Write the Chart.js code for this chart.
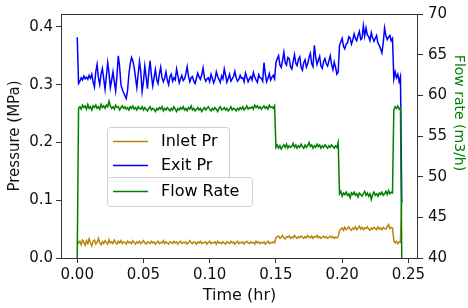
<!DOCTYPE html>
<html lang="en">
<head>
    <meta charset="UTF-8">
    <title>Pressure and flow rate</title>
    <script src="https://cdn.jsdelivr.net/npm/chart.js"></script>
    <style>
        body { margin: 0; background: #fff; }
        canvas { display: block; }
    </style>
</head>
<body>
    <canvas id="chart" width="468" height="308"></canvas>

    <script>
        // time (hr)
        const times = [
            0.000,
            0.001, 0.002, 0.003, 0.004, 0.005, 0.006, 0.007, 0.008, 0.009, 0.010,
            0.011, 0.012, 0.013, 0.014, 0.015, 0.016, 0.017, 0.018, 0.019, 0.020,
            0.021, 0.022, 0.023, 0.024, 0.025, 0.026, 0.027, 0.028, 0.029, 0.030,
            0.031, 0.032, 0.033, 0.034, 0.035, 0.036, 0.037, 0.038, 0.039, 0.040,
            0.041, 0.042, 0.043, 0.044, 0.045, 0.046, 0.047, 0.048, 0.049, 0.050,
            0.051, 0.052, 0.053, 0.054, 0.055, 0.056, 0.057, 0.058, 0.059, 0.060,
            0.061, 0.062, 0.063, 0.064, 0.065, 0.066, 0.067, 0.068, 0.069, 0.070,
            0.071, 0.072, 0.073, 0.074, 0.075, 0.076, 0.077, 0.078, 0.079, 0.080,
            0.081, 0.082, 0.083, 0.084, 0.085, 0.086, 0.087, 0.088, 0.089, 0.090,
            0.091, 0.092, 0.093, 0.094, 0.095, 0.096, 0.097, 0.098, 0.099, 0.100,
            0.101, 0.102, 0.103, 0.104, 0.105, 0.106, 0.107, 0.108, 0.109, 0.110,
            0.111, 0.112, 0.113, 0.114, 0.115, 0.116, 0.117, 0.118, 0.119, 0.120,
            0.121, 0.122, 0.123, 0.124, 0.125, 0.126, 0.127, 0.128, 0.129, 0.130,
            0.131, 0.132, 0.133, 0.134, 0.135, 0.136, 0.137, 0.138, 0.139, 0.140,
            0.141, 0.142, 0.143, 0.144, 0.145, 0.146, 0.147, 0.148, 0.149,
            0.150, 0.151, 0.152, 0.153, 0.154, 0.155, 0.156, 0.157, 0.158, 0.159,
            0.160, 0.161, 0.162, 0.163, 0.164, 0.165, 0.166, 0.167, 0.168, 0.169,
            0.170, 0.171, 0.172, 0.173, 0.174, 0.175, 0.176, 0.177, 0.178, 0.179,
            0.180, 0.181, 0.182, 0.183, 0.184, 0.185, 0.186, 0.187, 0.188, 0.189,
            0.190, 0.191, 0.192, 0.193, 0.194, 0.195, 0.196, 0.197,
            0.198, 0.199, 0.200, 0.201, 0.202, 0.203, 0.204, 0.205, 0.206, 0.207,
            0.208, 0.209, 0.210, 0.211, 0.212, 0.213, 0.214, 0.215, 0.216, 0.217,
            0.218, 0.219, 0.220, 0.221, 0.222, 0.223, 0.224, 0.225, 0.226, 0.227,
            0.228, 0.229, 0.230, 0.231, 0.232, 0.233, 0.234, 0.235, 0.236, 0.237,
            0.238,
            0.239, 0.240, 0.241, 0.242, 0.243, 0.244,
            0.245
        ];

        // MPa
        const inletPr = [
            0.031,
            0.026, 0.029, 0.023, 0.031, 0.027, 0.022, 0.030, 0.025, 0.033, 0.026,
            0.021, 0.029, 0.031, 0.024, 0.027, 0.034, 0.026, 0.023, 0.028, 0.025,
            0.030, 0.027, 0.024, 0.032, 0.026, 0.028, 0.025, 0.031, 0.027, 0.024,
            0.029, 0.026, 0.030, 0.025, 0.028, 0.027, 0.024, 0.029, 0.026, 0.028,
            0.025, 0.030, 0.027, 0.024, 0.028, 0.026, 0.029, 0.025, 0.027, 0.030,
            0.026, 0.024, 0.028, 0.027, 0.025, 0.029, 0.026, 0.028, 0.024, 0.027,
            0.029, 0.025, 0.027, 0.026, 0.030, 0.025, 0.028, 0.026, 0.024, 0.028,
            0.027, 0.025, 0.029, 0.026, 0.028, 0.024, 0.027, 0.029, 0.025, 0.027,
            0.026, 0.028, 0.024, 0.027, 0.030, 0.026, 0.025, 0.028, 0.027, 0.024,
            0.028, 0.026, 0.029, 0.025, 0.027, 0.026, 0.028, 0.024, 0.027, 0.029,
            0.025, 0.027, 0.026, 0.028, 0.024, 0.029, 0.026, 0.027, 0.025, 0.028,
            0.026, 0.024, 0.028, 0.027, 0.025, 0.029, 0.026, 0.028, 0.024, 0.027,
            0.029, 0.025, 0.027, 0.026, 0.028, 0.024, 0.027, 0.029, 0.026, 0.025,
            0.028, 0.026, 0.027, 0.024, 0.029, 0.026, 0.028, 0.025, 0.027, 0.026,
            0.028, 0.024, 0.027, 0.029, 0.025, 0.027, 0.026, 0.028, 0.026,
            0.035, 0.037, 0.038, 0.034, 0.036, 0.039, 0.035, 0.033, 0.037, 0.036,
            0.038, 0.034, 0.036, 0.035, 0.039, 0.036, 0.034, 0.037, 0.035, 0.038,
            0.036, 0.034, 0.037, 0.035, 0.039, 0.036, 0.035, 0.038, 0.034, 0.037,
            0.036, 0.039, 0.035, 0.037, 0.034, 0.036, 0.038, 0.035, 0.037, 0.034,
            0.036, 0.038, 0.035, 0.037, 0.034, 0.036, 0.035, 0.037,
            0.047, 0.050, 0.052, 0.048, 0.053, 0.049, 0.051, 0.054, 0.050, 0.048,
            0.052, 0.050, 0.054, 0.049, 0.052, 0.055, 0.050, 0.053, 0.049, 0.052,
            0.051, 0.054, 0.050, 0.048, 0.052, 0.050, 0.053, 0.051, 0.049, 0.054,
            0.050, 0.052, 0.049, 0.053, 0.051, 0.050, 0.054, 0.058, 0.051, 0.053,
            0.052,
            0.030, 0.026, 0.029, 0.025, 0.028, 0.027,
            0.100
        ];

        const exitPr = [
            0.382,
            0.302, 0.306, 0.312, 0.308, 0.315, 0.310, 0.313, 0.309, 0.316, 0.311,
            0.318, 0.305, 0.296, 0.322, 0.335, 0.312, 0.300, 0.318, 0.328, 0.310,
            0.292, 0.315, 0.338, 0.320, 0.295, 0.308, 0.322, 0.305, 0.289, 0.316,
            0.350, 0.331, 0.300, 0.292, 0.286, 0.281, 0.276, 0.290, 0.318, 0.336,
            0.347, 0.341, 0.330, 0.312, 0.295, 0.318, 0.340, 0.322, 0.288, 0.305,
            0.332, 0.314, 0.293, 0.320, 0.341, 0.316, 0.298, 0.312, 0.326, 0.309,
            0.302, 0.318, 0.330, 0.312, 0.305, 0.311, 0.322, 0.308, 0.300, 0.314,
            0.318, 0.306, 0.312, 0.308, 0.327, 0.315, 0.303, 0.310, 0.316, 0.307,
            0.310, 0.319, 0.331, 0.314, 0.305, 0.312, 0.314, 0.306, 0.302, 0.311,
            0.320, 0.313, 0.309, 0.317, 0.329, 0.312, 0.306, 0.310, 0.312, 0.305,
            0.318, 0.311, 0.303, 0.309, 0.322, 0.314, 0.309, 0.304, 0.315, 0.310,
            0.327, 0.316, 0.304, 0.311, 0.318, 0.306, 0.310, 0.314, 0.323, 0.312,
            0.306, 0.309, 0.316, 0.311, 0.312, 0.305, 0.320, 0.313, 0.305, 0.310,
            0.314, 0.308, 0.321, 0.313, 0.308, 0.304, 0.317, 0.312, 0.311, 0.306,
            0.338, 0.318, 0.305, 0.311, 0.319, 0.308, 0.313, 0.316, 0.310,
            0.338, 0.345, 0.350, 0.334, 0.330, 0.342, 0.356, 0.338, 0.334, 0.347,
            0.345, 0.331, 0.327, 0.340, 0.352, 0.337, 0.333, 0.344, 0.348, 0.330,
            0.325, 0.338, 0.343, 0.330, 0.336, 0.347, 0.354, 0.336, 0.331, 0.368,
            0.348, 0.335, 0.342, 0.349, 0.332, 0.328, 0.340, 0.345, 0.336, 0.332,
            0.341, 0.350, 0.335, 0.326, 0.339, 0.330, 0.318, 0.322,
            0.368, 0.374, 0.380, 0.366, 0.362, 0.370, 0.372, 0.383, 0.381, 0.370,
            0.377, 0.388, 0.380, 0.376, 0.385, 0.392, 0.378, 0.380, 0.402, 0.384,
            0.398, 0.386, 0.383, 0.376, 0.390, 0.381, 0.375, 0.380, 0.385, 0.372,
            0.368, 0.362, 0.355, 0.372, 0.398, 0.385, 0.378, 0.382, 0.385, 0.376,
            0.380,
            0.310, 0.322, 0.312, 0.318, 0.305, 0.314,
            0.097
        ];

        // m3/h
        const flowRate = [
            40.0,
            58.4, 58.6, 58.3, 58.8, 58.5, 58.7, 58.3, 58.9, 58.4, 58.6,
            58.2, 58.7, 58.5, 58.8, 58.4, 58.6, 58.3, 58.9, 58.5, 58.7,
            58.4, 58.8, 58.6, 59.3, 58.7, 58.4, 58.6, 58.3, 58.8, 58.5,
            58.6, 58.2, 58.5, 58.7, 58.4, 58.6, 58.3, 58.5, 58.2, 58.6,
            58.4, 58.7, 58.3, 58.5, 58.2, 58.6, 58.4, 58.3, 58.6, 58.2,
            58.5, 58.3, 58.1, 58.4, 58.6, 58.2, 58.4, 58.3, 58.0, 58.4,
            58.2, 58.5, 58.3, 58.6, 58.1, 58.4, 58.2, 58.5, 58.3, 58.1,
            58.4, 58.2, 58.6, 58.3, 58.0, 58.4, 58.2, 58.5, 58.3, 58.6,
            58.2, 58.4, 58.1, 58.5, 58.3, 58.7, 58.2, 58.4, 58.1, 58.3,
            58.5, 58.2, 58.4, 58.0, 58.3, 58.5, 58.2, 58.4, 58.6, 58.3,
            58.1, 58.4, 58.2, 58.5, 58.3, 58.0, 58.4, 58.6, 58.2, 58.3,
            58.5, 58.2, 58.4, 58.1, 58.3, 58.6, 58.2, 58.4, 58.3, 58.1,
            58.4, 58.2, 58.5, 58.3, 58.6, 58.2, 58.4, 58.7, 58.3, 58.5,
            58.4, 58.6, 58.3, 58.8, 58.5, 58.7, 58.4, 58.6, 58.3, 58.5,
            58.7, 58.4, 58.6, 58.3, 58.8, 58.5, 58.6, 58.4, 58.7,
            53.6, 53.9, 53.5, 53.8, 53.4, 53.7, 53.9, 53.6, 54.0, 53.5,
            53.8, 53.6, 53.7, 54.1, 53.6, 53.9, 53.5, 53.8, 53.6, 54.0,
            53.7, 53.5, 53.9, 53.6, 53.8, 54.2, 53.7, 53.9, 53.5, 53.8,
            53.6, 54.0, 53.7, 53.9, 53.5, 53.8, 53.6, 53.9, 53.7, 53.5,
            53.8, 53.6, 53.9, 53.7, 53.5, 53.8, 53.6, 54.2,
            47.9, 48.2, 47.6, 48.0, 47.8, 48.1, 47.7, 47.9, 47.4, 48.0,
            47.8, 48.1, 47.7, 47.9, 47.5, 48.0, 47.8, 47.6, 47.9, 48.2,
            47.7, 48.0, 47.6, 47.9, 47.2, 47.8, 48.1, 47.7, 47.9, 47.6,
            48.0, 47.8, 48.1, 47.7, 47.9, 48.2, 47.8, 48.3, 47.9, 48.1,
            48.0,
            58.2, 58.6, 58.4, 58.7, 58.3, 58.5,
            40.0
        ];

        const xTicks = [0.00, 0.05, 0.10, 0.15, 0.20, 0.25];
        const pressureTicks = [0.0, 0.1, 0.2, 0.3, 0.4];
        const flowTicks = [40, 45, 50, 55, 60, 65, 70];

        const pts = (ys) => times.map((t, i) => ({ x: t, y: ys[i] }));

        const FONT = 'DejaVu Sans';
        const AXIS = '#333333';

        // matplotlib-style frame, two legends, green right label
        const decorations = {
            id: 'decorations',
            afterDraw(chart) {
                const { ctx, chartArea: a } = chart;
                ctx.save();
                ctx.strokeStyle = AXIS;
                ctx.lineWidth = 1;
                ctx.strokeRect(Math.round(a.left) + 0.5, Math.round(a.top) + 0.5,
                    Math.round(a.right - a.left) - 1, Math.round(a.bottom - a.top));

                const ds = chart.data.datasets;
                const box = (x, y, w, h, rows) => {
                    ctx.beginPath();
                    ctx.roundRect(x + 0.5, y + 0.5, w, h, 3);
                    ctx.fillStyle = 'rgba(255,255,255,0.8)';
                    ctx.fill();
                    ctx.strokeStyle = '#d0d0d0';
                    ctx.stroke();
                    rows.forEach(([idx, ry]) => {
                        ctx.strokeStyle = ds[idx].borderColor;
                        ctx.lineWidth = 1.5;
                        ctx.beginPath();
                        ctx.moveTo(x + 6, ry);
                        ctx.lineTo(x + 41, ry);
                        ctx.stroke();
                        ctx.lineWidth = 1;
                        ctx.fillStyle = '#000';
                        ctx.font = '16px "' + FONT + '"';
                        ctx.textBaseline = 'middle';
                        ctx.textAlign = 'left';
                        ctx.fillText(ds[idx].label, x + 54, ry);
                    });
                };
                box(107, 127, 122, 54, [[0, 141.5], [1, 165.5]]);
                box(107, 177, 145, 29, [[2, 191.5]]);

                ctx.translate(459, 113);
                ctx.rotate(Math.PI / 2);
                ctx.fillStyle = '#008000';
                ctx.font = '14px "' + FONT + '"';
                ctx.textAlign = 'center';
                ctx.textBaseline = 'middle';
                ctx.fillText('Flow rate (m3/h)', 0, 0);
                ctx.restore();
            }
        };

        const tickFont = { family: FONT, size: 15 };
        const gridOpts = { drawOnChartArea: false, drawTicks: true, tickLength: 5, color: AXIS };

        new Chart(document.getElementById('chart'), {
            type: 'line',
            data: {
                datasets: [
                    { label: 'Inlet Pr', data: pts(inletPr), yAxisID: 'y', borderColor: '#b8860b', order: 2 },
                    { label: 'Exit Pr', data: pts(exitPr), yAxisID: 'y', borderColor: '#0000ff', order: 1 },
                    { label: 'Flow Rate', data: pts(flowRate), yAxisID: 'y1', borderColor: '#008000', order: 0 },
                ],
            },
            options: {
                responsive: false,
                animation: false,
                devicePixelRatio: 1,
                layout: { padding: { top: 11, left: 0, right: 0, bottom: 0 } },
                elements: {
                    line: { borderWidth: 1.5, tension: 0, fill: false },
                    point: { radius: 0 },
                },
                plugins: {
                    legend: { display: false },
                    tooltip: { enabled: false },
                },
                scales: {
                    x: {
                        type: 'linear',
                        min: -0.01225,
                        max: 0.25725,
                        afterBuildTicks: s => { s.ticks = xTicks.map(v => ({ value: v })); },
                        afterFit: s => { s.height = 50; },
                        ticks: { font: tickFont, color: '#111', padding: 3, maxRotation: 0,
                                 callback: v => v.toFixed(2) },
                        grid: gridOpts,
                        border: { display: false },
                        title: { display: true, text: 'Time (hr)', color: '#111',
                                 font: { family: FONT, size: 16 }, padding: { top: 0, bottom: 3 } },
                    },
                    y: {
                        position: 'left',
                        min: 0,
                        max: 0.4222,
                        afterBuildTicks: s => { s.ticks = pressureTicks.map(v => ({ value: v })); },
                        afterFit: s => { s.width = 61; },
                        ticks: { font: tickFont, color: '#111', padding: 3, callback: v => v.toFixed(1) },
                        grid: gridOpts,
                        border: { display: false },
                        title: { display: true, text: 'Pressure (MPa)', color: '#111',
                                 font: { family: FONT, size: 15 }, padding: { top: 6, bottom: 0 } },
                    },
                    y1: {
                        position: 'right',
                        min: 40,
                        max: 70,
                        afterBuildTicks: s => { s.ticks = flowTicks.map(v => ({ value: v })); },
                        afterFit: s => { s.width = 50; },
                        ticks: { font: tickFont, color: '#111', padding: 5, callback: v => String(v) },
                        grid: gridOpts,
                        border: { display: false },
                    },
                },
            },
            plugins: [decorations],
        });
    </script>
</body>
</html>
